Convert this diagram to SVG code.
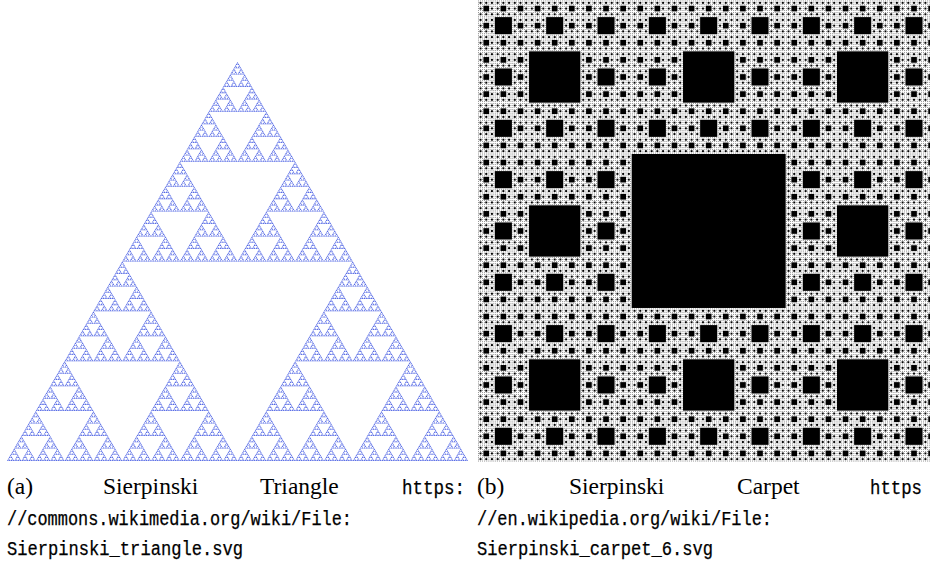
<svg xmlns="http://www.w3.org/2000/svg" width="930" height="566" viewBox="0 0 930 566">
<style>
.rm{font-family:"Liberation Serif","Times New Roman",serif;font-size:23.5px;fill:#000}
.tt{font-family:"Liberation Mono","Courier New",monospace;font-size:19.5px;fill:#000;stroke:#000;stroke-width:0.25px}
.tri{fill:#4f64e4}
.hole{fill:#000}
</style>
<defs>
<path id="t0" class="tri" d="M0 1L1 0L2 1Z"/>
<g id="t1"><use href="#t0" x="1" y="0"/><use href="#t0" x="0" y="1"/><use href="#t0" x="2" y="1"/></g>
<g id="t2"><use href="#t1" x="2" y="0"/><use href="#t1" x="0" y="2"/><use href="#t1" x="4" y="2"/></g>
<g id="t3"><use href="#t2" x="4" y="0"/><use href="#t2" x="0" y="4"/><use href="#t2" x="8" y="4"/></g>
<g id="t4"><use href="#t3" x="8" y="0"/><use href="#t3" x="0" y="8"/><use href="#t3" x="16" y="8"/></g>
<g id="t5"><use href="#t4" x="16" y="0"/><use href="#t4" x="0" y="16"/><use href="#t4" x="32" y="16"/></g>
<g id="t6"><use href="#t5" x="32" y="0"/><use href="#t5" x="0" y="32"/><use href="#t5" x="64" y="32"/></g>
<g id="t7"><use href="#t6" x="64" y="0"/><use href="#t6" x="0" y="64"/><use href="#t6" x="128" y="64"/></g>
<g id="t8"><use href="#t7" x="128" y="0"/><use href="#t7" x="0" y="128"/><use href="#t7" x="256" y="128"/></g>

<rect id="k1" class="hole" x="1" y="1" width="1" height="1"/>
<g id="k2"><rect class="hole" x="3" y="3" width="3" height="3"/><use href="#k1"/><use href="#k1" x="3"/><use href="#k1" x="6"/><use href="#k1" y="3"/><use href="#k1" x="6" y="3"/><use href="#k1" y="6"/><use href="#k1" x="3" y="6"/><use href="#k1" x="6" y="6"/></g>
<g id="k3"><rect class="hole" x="9" y="9" width="9" height="9"/><use href="#k2"/><use href="#k2" x="9"/><use href="#k2" x="18"/><use href="#k2" y="9"/><use href="#k2" x="18" y="9"/><use href="#k2" y="18"/><use href="#k2" x="9" y="18"/><use href="#k2" x="18" y="18"/></g>
<g id="k4"><rect class="hole" x="27" y="27" width="27" height="27"/><use href="#k3"/><use href="#k3" x="27"/><use href="#k3" x="54"/><use href="#k3" y="27"/><use href="#k3" x="54" y="27"/><use href="#k3" y="54"/><use href="#k3" x="27" y="54"/><use href="#k3" x="54" y="54"/></g>
<g id="k5"><rect class="hole" x="81" y="81" width="81" height="81"/><use href="#k4"/><use href="#k4" x="81"/><use href="#k4" x="162"/><use href="#k4" y="81"/><use href="#k4" x="162" y="81"/><use href="#k4" y="162"/><use href="#k4" x="81" y="162"/><use href="#k4" x="162" y="162"/></g>
<g id="k6"><rect class="hole" x="243" y="243" width="243" height="243"/><use href="#k5"/><use href="#k5" x="243"/><use href="#k5" x="486"/><use href="#k5" y="243"/><use href="#k5" x="486" y="243"/><use href="#k5" y="486"/><use href="#k5" x="243" y="486"/><use href="#k5" x="486" y="486"/></g>
</defs>
<rect width="930" height="566" fill="#fff"/>
<g id="triangle" transform="translate(7,62) scale(0.90039,1.55859)">
<use href="#t8"/>
</g>
<g id="carpet" transform="translate(477.7,0) scale(0.6337)">
<use href="#k6"/>
</g>
<g id="caption-a">
<text class="rm" x="7" y="494">(a)</text>
<text class="rm" x="103" y="494">Sierpinski</text>
<text class="rm" x="260" y="494">Triangle</text>
<text class="tt" x="402" y="494" textLength="63" lengthAdjust="spacingAndGlyphs">https:</text>
<text class="tt" x="7" y="524.5" textLength="345" lengthAdjust="spacingAndGlyphs">//commons.wikimedia.org/wiki/File:</text>
<text class="tt" x="7" y="555" textLength="236" lengthAdjust="spacingAndGlyphs">Sierpinski_triangle.svg</text>
</g>
<g id="caption-b">
<text class="rm" x="477" y="494">(b)</text>
<text class="rm" x="569" y="494">Sierpinski</text>
<text class="rm" x="737" y="494">Carpet</text>
<text class="tt" x="870" y="494" textLength="52" lengthAdjust="spacingAndGlyphs">https</text>
<text class="tt" x="477" y="524.5" textLength="295" lengthAdjust="spacingAndGlyphs">//en.wikipedia.org/wiki/File:</text>
<text class="tt" x="477" y="555" textLength="236" lengthAdjust="spacingAndGlyphs">Sierpinski_carpet_6.svg</text>
</g>
</svg>
